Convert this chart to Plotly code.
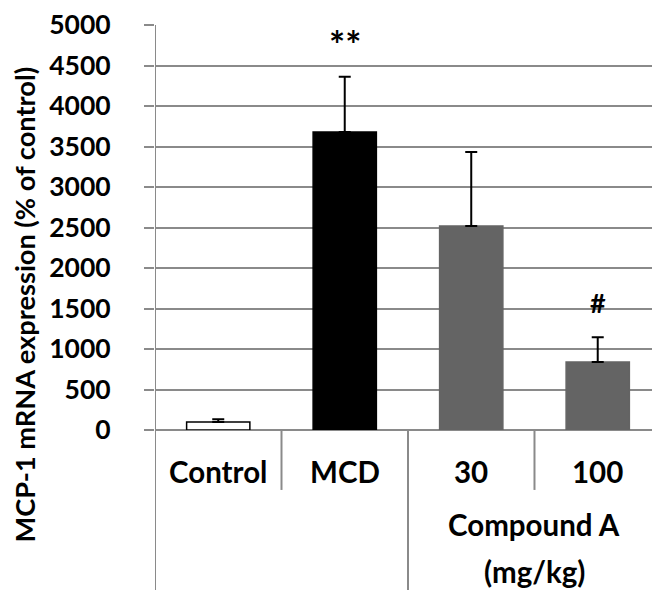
import plotly.graph_objects as go

categories = ["Control", "MCD", "30", "100"]
values = [100, 3680, 2520, 840]
err_plus = [33, 682, 912, 304]
bar_colors = ["#ffffff", "#000000", "#646464", "#646464"]
line_colors = ["#000000", "#000000", "#646464", "#646464"]
group_label_1 = "Compound A"
group_label_2 = "(mg/kg)"
sig_labels = ["", "**", "", "#"]
sig_values = [None, 4760, None, 1568]
y_ticks = list(range(0, 5001, 500))

FONT = "Lato"
GRID = "#8a8a8a"
pos = list(range(len(categories)))

def f(size):
    return dict(family=FONT, size=size, color="black", weight="bold")

fig = go.Figure()
fig.add_trace(go.Bar(
    x=pos, y=values, width=0.5,
    marker=dict(color=bar_colors, line=dict(color=line_colors, width=1.5)),
    error_y=dict(type="data", symmetric=False, array=err_plus,
                 arrayminus=[0] * len(values), color="black", thickness=2, width=6),
    showlegend=False, hoverinfo="skip",
))

ann = []
for i, c in enumerate(categories):
    ann.append(dict(x=i, y=-0.1036, xref="x", yref="paper", text=c, showarrow=False,
                    xanchor="center", yanchor="middle", font=f(29.5)))
for i, (s, v) in enumerate(zip(sig_labels, sig_values)):
    if s:
        ann.append(dict(x=i, y=v, xref="x", yref="y", text=s, showarrow=False,
                        xanchor="center", yanchor="middle",
                        font=f(38 if s == "**" else 27)))
ann.append(dict(x=2.5, y=-0.234, xref="x", yref="paper", text=group_label_1, showarrow=False,
                xanchor="center", yanchor="middle", font=f(29.5)))
ann.append(dict(x=2.5, y=-0.350, xref="x", yref="paper", text=group_label_2, showarrow=False,
                xanchor="center", yanchor="middle", font=f(29.5)))
ann.append(dict(x=-0.2636, y=0.31, xref="paper", yref="paper",
                text="MCP-1 mRNA expression (% of control)", showarrow=False,
                textangle=-90, xanchor="center", yanchor="middle", font=f(27.2)))

shapes = [
    dict(type="line", xref="x", yref="paper", x0=-0.5, x1=-0.5, y0=1, y1=-0.45,
         line=dict(color=GRID, width=2)),
    dict(type="line", xref="x", yref="paper", x0=0.5, x1=0.5, y0=0, y1=-0.148,
         line=dict(color=GRID, width=2)),
    dict(type="line", xref="x", yref="paper", x0=2.5, x1=2.5, y0=0, y1=-0.148,
         line=dict(color=GRID, width=2)),
    dict(type="line", xref="x", yref="paper", x0=1.5, x1=1.5, y0=0, y1=-0.45,
         line=dict(color=GRID, width=2)),
]

fig.update_layout(
    width=652, height=590,
    margin=dict(l=155, r=0, t=24.5, b=160),
    paper_bgcolor="white", plot_bgcolor="white",
    font=dict(family=FONT, color="black"),
    annotations=ann, shapes=shapes,
    bargap=0.5,
    xaxis=dict(range=[-0.5, 3.429], showticklabels=False, showgrid=False,
               zeroline=False, ticks="", showline=False),
    yaxis=dict(range=[0, 5000], tickvals=y_ticks, showgrid=True, gridcolor=GRID, gridwidth=2,
               zeroline=True, zerolinecolor=GRID, zerolinewidth=2,
               ticks="outside", ticklen=10, tickcolor=GRID, tickwidth=2,
               showline=False, ticklabelstandoff=28, automargin=False,
               tickfont=f(26.5)),
)

fig.write_html("out.html", config={"displayModeBar": False},
               post_script="document.body.style.margin='0';document.body.style.overflow='hidden';")
